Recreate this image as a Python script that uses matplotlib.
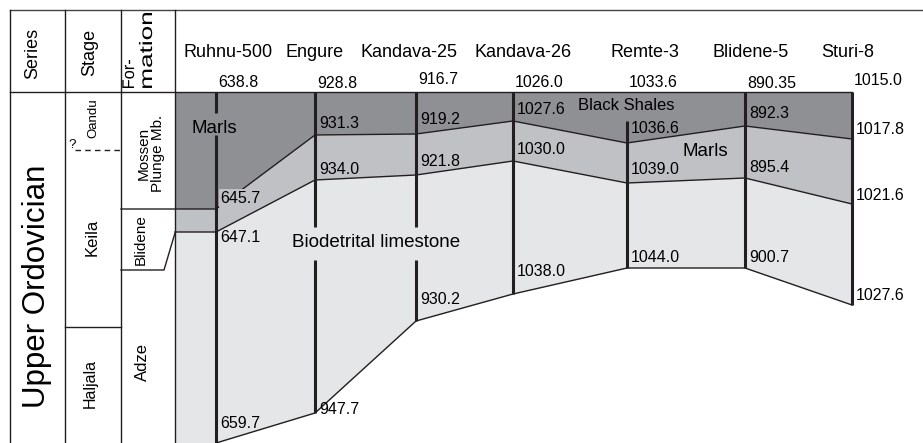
import matplotlib.pyplot as plt
from matplotlib.textpath import TextPath
from matplotlib.patches import PathPatch
from matplotlib.transforms import Affine2D
from matplotlib.font_manager import FontProperties

plt.rcParams['font.family'] = ['Liberation Sans', 'DejaVu Sans']

# well data (depths in m)
wells = ["Ruhnu-500", "Engure", "Kandava-25", "Kandava-26", "Remte-3", "Blidene-5", "Sturi-8"]
top_depth = ["638.8", "928.8", "916.7", "1026.0", "1033.6", "890.35", "1015.0"]
dark_base = ["645.7", "931.3", "919.2", "1027.6", "1036.6", "892.3", "1017.8"]
mid_base = ["647.1", "934.0", "921.8", "1030.0", "1039.0", "895.4", "1021.6"]
lime_base = ["659.7", "947.7", "930.2", "1038.0", "1044.0", "900.7", "1027.6"]

# layout of the (not to scale) correlation panel, in pixels
well_x = [216, 315, 416, 513, 627, 745, 852]
name_x = [228, 315, 409, 523, 645, 751, 848]
top_y = [82, 83, 79, 82, 82, 83, 80]
y_dark = [209, 135, 134, 121, 143, 126, 139]
y_mid = [232, 180, 175, 161, 183, 178, 204]
y_lime = [443, 413, 321, 294, 268, 268, 305]
lab_dark = [198, 123, 119, 109, 128, 113, 130]
lab_mid = [237, 170, 162, 150, 170, 168, 195]
lab_lime = [423, 410, 299, 272, 257, 257, 295]
well_segments = [[(92, 113), (135, 443)], [(92, 227), (260, 413)], [(92, 227), (260, 321)],
                 [(92, 294)], [(121, 268)], [(92, 268)], [(92, 305)]]

c_dark = '#8f9094'
c_mid = '#c0c1c4'
c_light = '#e5e6e8'
c_line = '#231f20'

fig = plt.figure(figsize=(9.23, 4.43), dpi=100)
ax = fig.add_axes([0, 0, 1, 1])
ax.set_xlim(0, 923)
ax.set_ylim(443, 0)
ax.axis('off')

# shaded units
xs = [175] + well_x
ax.fill_between(xs, [92] * len(xs), [y_dark[0]] + y_dark, color=c_dark, lw=0)
ax.fill_between(xs, [y_dark[0]] + y_dark, [y_mid[0]] + y_mid, color=c_mid, lw=0)
ax.fill_between(xs, [y_mid[0]] + y_mid, [y_lime[0]] + y_lime, color=c_light, lw=0)

# boundaries
ax.plot([121, 175] + well_x, [y_dark[0], y_dark[0]] + y_dark, color=c_line, lw=1.0)
ax.plot(xs, [y_mid[0]] + y_mid, color=c_line, lw=1.0)
ax.plot(well_x, y_lime, color=c_line, lw=1.0)

# frame / header
fr = '#444444'
ax.plot([10, 922], [10, 10], color=fr, lw=1.0)
ax.plot([10, 852], [92, 92], color=c_line, lw=1.0)
for x in [10, 65, 121, 175]:
    ax.plot([x, x], [10, 443], color=c_line, lw=1.0)

# stage / formation boundaries
ax.plot([75, 121], [150, 150], color=c_line, lw=1.0, ls=(0, (4, 3)))
ax.plot([65, 121], [327, 327], color=c_line, lw=1.0)
ax.plot([121, 164, 175], [270, 270, 233], color=c_line, lw=1.0)
ax.text(72, 145, "?", fontsize=9.5, ha='center', va='center')

# wells
for segs, x in zip(well_segments, well_x):
    for y0, y1 in segs:
        ax.plot([x, x], [y0, y1], color=c_line, lw=2.2, solid_capstyle='butt')


def stretched_vtext(s, x_base, y_bottom, length, em):
    # vertical text reading upwards, stretched to a given length (pixels)
    fp = FontProperties(family='Liberation Sans')
    tp = TextPath((0, 0), s, size=em, prop=fp)
    ext = tp.get_extents()
    sx = length / ext.width
    tr = Affine2D().translate(-ext.x0, 0).scale(sx, 1) \
        + Affine2D([[0, -1, x_base], [-1, 0, y_bottom], [0, 0, 1]])
    ax.add_patch(PathPatch(tr.transform_path(tp), color='black', lw=0))


# header texts
ax.text(33, 53, "Series", rotation=90, fontsize=13, ha='center', va='center')
ax.text(90, 52, "Stage", rotation=90, fontsize=13, ha='center', va='center')
stretched_vtext("For-", 134, 88, 28, 17)
stretched_vtext("mation", 152, 88, 75, 18)
for name, x in zip(wells, name_x):
    ax.text(x, 52, name, fontsize=13, ha='center', va='center')
for d, x, y in zip(top_depth, well_x, top_y):
    ax.text(x + 2, y, d, fontsize=11.5, ha='left', va='center')

# stratigraphy column texts
ax.text(37, 286, "Upper Ordovician", rotation=90, fontsize=22.5, ha='center', va='center')
ax.text(93, 118, "Oandu", rotation=90, fontsize=9.5, ha='center', va='center')
ax.text(92, 237, "Keila", rotation=90, fontsize=12, ha='center', va='center')
ax.text(90, 383, "Haljala", rotation=90, fontsize=11.5, ha='center', va='center')
ax.text(151, 153, "Mossen\nPlunge Mb.", rotation=90, fontsize=11, ha='center', va='center',
        linespacing=1.05)
ax.text(141, 240, "Blidene", rotation=90, fontsize=11, ha='center', va='center')
ax.text(142, 362, "Adze", rotation=90, fontsize=12, ha='center', va='center')

# depth labels
for i, x in enumerate(well_x):
    bbox = None
    if i == 0:
        bbox = dict(facecolor=c_mid, edgecolor='none', pad=1)
    ax.text(x + 4, lab_dark[i], dark_base[i], fontsize=11.5, ha='left', va='center', bbox=bbox)
    ax.text(x + 4, lab_mid[i], mid_base[i], fontsize=11.5, ha='left', va='center')
    ax.text(x + 4, lab_lime[i], lime_base[i], fontsize=11.5, ha='left', va='center')

# lithology names
ax.text(214, 128, "Marls", fontsize=13.5, ha='center', va='center')
ax.text(705, 151, "Marls", fontsize=13.5, ha='center', va='center')
ax.text(626, 105, "Black Shales", fontsize=12, ha='center', va='center')
ax.text(376, 242, "Biodetrital limestone", fontsize=13.5, ha='center', va='center')

fig.savefig('out.png', dpi=100)
